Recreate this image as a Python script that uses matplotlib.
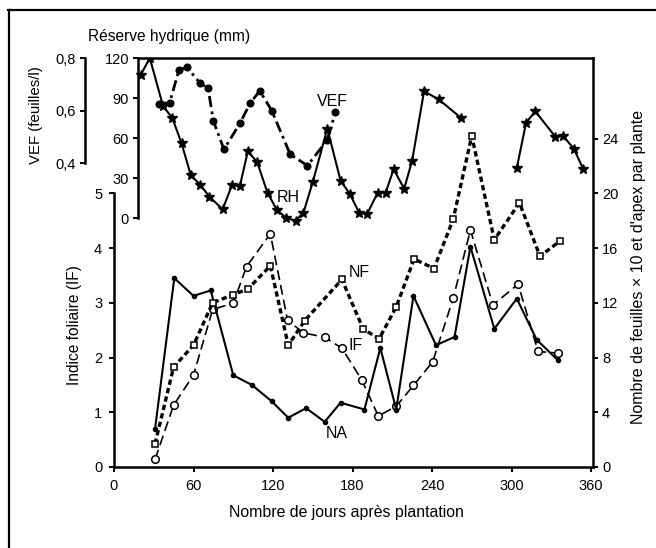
import numpy as np
import matplotlib
matplotlib.use("Agg")
import matplotlib.pyplot as plt
from matplotlib.lines import Line2D

plt.rcParams['font.family'] = ['Liberation Sans', 'DejaVu Sans']

# Réserve hydrique (mm) - stars, solid
rh_days = [20, 27, 37, 44, 51, 58, 65, 72, 82, 89, 95, 101, 108, 116, 123, 130, 137, 143, 150, 161,
           171, 178, 185, 191, 199, 205, 211, 219, 225, 234, 245, 262, 283, 304, 311, 318, 333, 339, 347, 354]
rh_mm = [107, 120, 84, 75, 56, 32, 25, 16, 6.5, 24.5, 24, 50, 42, 18.5, 6, 0, -2, 4, 27, 67,
         28, 18, 4, 3, 19, 19, 36.5, 22, 43, 95, 89, 75, np.nan, 37.5, 71.5, 80, 61, 61.5, 52, 37]

# VEF (feuilles/l) - filled dots, dash-dot
vef_days = [34, 42, 49, 55, 65, 71, 75, 83, 95, 103, 110, 119, 133, 146, 161, 167]
vef = [0.625, 0.63, 0.754, 0.765, 0.704, 0.685, 0.56, 0.452, 0.551, 0.63, 0.675, 0.60, 0.433, 0.39, 0.488, 0.593]

# Indice foliaire - open circles, dashed
if_days = [31, 45, 60, 74.5, 90, 100, 118, 131, 143, 159, 172, 187, 199.5, 213, 226, 240.5, 256, 269, 286, 305, 320, 335]
if_vals = [0.14, 1.13, 1.68, 2.88, 2.99, 3.66, 4.26, 2.68, 2.45, 2.37, 2.17, 1.59, 0.93, 1.11, 1.49, 1.92, 3.08, 4.33, 2.96, 3.34, 2.11, 2.08]

# Nombre de feuilles x 10 - open squares, dotted
nf_days = [31, 45, 60, 74.5, 90, 101, 118, 131.5, 144, 172, 188, 200, 213, 226.5, 241.5, 256, 270, 287, 306, 321.5, 336.5]
nf = [1.7, 7.3, 8.9, 12.0, 12.6, 13.0, 14.7, 8.9, 10.7, 13.7, 10.1, 9.35, 11.7, 15.2, 14.5, 18.1, 24.2, 16.6, 19.3, 15.4, 16.5]

# Nombre d'apex - small dots, solid
na_days = [31, 45.5, 60, 73, 90, 104, 119, 131.5, 145, 159, 171, 189, 201, 213, 226, 243, 257, 269, 287, 304, 319, 335]
na = [2.8, 13.8, 12.5, 12.9, 6.7, 6.0, 4.8, 3.6, 4.3, 3.3, 4.7, 4.2, 8.7, 4.2, 12.5, 8.9, 9.5, 16.1, 10.1, 12.3, 9.3, 7.8]

W, H = 656, 548
fig = plt.figure(figsize=(W / 100, H / 100), dpi=100)
L, R, B, T = 114, 593, 467, 58
ax = fig.add_axes([L / W, 1 - B / H, (R - L) / W, (B - T) / H])

lw_sp = 1.8
tick_kw = dict(direction='out', length=3.5, width=1.4, labelsize=10.5)

# main axis: indice foliaire
if_top = (B - T) / 54.75
ax.set_xlim(0, 361.5)
ax.set_ylim(0, if_top)
ax.plot(if_days, if_vals, color='black', lw=1.2, ls=(0, (6, 3)), marker='o', ms=5.5,
        mfc='white', mec='black', mew=1.1, zorder=4)
for s in ['left', 'bottom', 'top']:
    ax.spines[s].set_linewidth(lw_sp)
ax.spines['right'].set_visible(False)
ax.spines['left'].set_bounds(0, 5)
x_rh = (138 - L) / 1.325
ax.spines['top'].set_bounds(x_rh, 361.5)
ax.set_xticks([0, 60, 120, 180, 240, 300, 360])
ax.set_yticks([0, 1, 2, 3, 4, 5])
ax.tick_params(axis='both', **tick_kw)
ax.tick_params(axis='x', pad=5)
ax.tick_params(axis='y', pad=5)
ax.set_facecolor('none')

# right axis: feuilles x 10 and apex
ax_r = ax.twinx()
ax_r.set_ylim(0, 4 * if_top)
ax_r.plot(nf_days, nf, color='black', lw=2.4, ls=(0, (1.6, 1.0)), marker='s', ms=5,
          mfc='white', mec='black', mew=1.1, zorder=4)
ax_r.plot(na_days, na, color='black', lw=1.5, ls='-', marker='o', ms=3, mfc='black', mec='black', zorder=3)
for s in ['left', 'top', 'bottom']:
    ax_r.spines[s].set_visible(False)
ax_r.spines['right'].set_linewidth(lw_sp)
ax_r.set_yticks([0, 4, 8, 12, 16, 20, 24])
ax_r.tick_params(axis='y', pad=3, **tick_kw)

# réserve hydrique axis
f0 = (B - 218) / (B - T)
ax_rh = ax.twinx()
ax_rh.set_ylim(-120 * f0 / (1 - f0), 120)
ax_rh.plot(rh_days, rh_mm, color='black', lw=1.5, ls='-', marker='*', ms=7.5, mfc='black', mec='black', zorder=3)
for s in ['right', 'top', 'bottom']:
    ax_rh.spines[s].set_visible(False)
ax_rh.spines['left'].set_visible(True)
ax_rh.spines['left'].set_position(('data', x_rh))
ax_rh.spines['left'].set_bounds(0, 120)
ax_rh.spines['left'].set_linewidth(lw_sp)
ax_rh.yaxis.set_ticks_position('left')
ax_rh.set_yticks([0, 30, 60, 90, 120])
ax_rh.tick_params(axis='y', pad=3, **tick_kw)

# VEF axis
f4 = (B - 163) / (B - T)
span = 0.4 / (1 - f4)
ax_vef = ax.twinx()
ax_vef.set_ylim(0.4 - f4 * span, 0.8001)
ax_vef.plot(vef_days, vef, color='black', lw=2.0, ls=(0, (4, 1.6, 1, 1.6)), marker='o', ms=4.8,
            mfc='black', mec='black', zorder=3)
for s in ['right', 'top', 'bottom']:
    ax_vef.spines[s].set_visible(False)
ax_vef.spines['left'].set_visible(True)
ax_vef.spines['left'].set_position(('axes', (85 - L) / (R - L)))
ax_vef.spines['left'].set_bounds(0.4, 0.8)
ax_vef.spines['left'].set_linewidth(lw_sp)
ax_vef.yaxis.set_ticks_position('left')
ax_vef.set_yticks([0.4, 0.6, 0.8])
ax_vef.set_yticklabels(['0,4', '0,6', '0,8'])
ax_vef.tick_params(axis='y', pad=3, **tick_kw)

# labels
def fx(px):
    return px / W

def fy(py):
    return 1 - py / H

fig.text(fx(88), fy(37), 'Réserve hydrique (mm)', fontsize=11.2, ha='left', va='center')
fig.text(fx(36), fy(115), 'VEF (feuilles/l)', fontsize=10.8, rotation=90, ha='center', va='center')
fig.text(fx(75), fy(325), 'Indice foliaire (IF)', fontsize=11.2, rotation=90, ha='center', va='center')
fig.text(fx(639), fy(267), "Nombre de feuilles × 10 et d'apex par plante", fontsize=11.5,
         rotation=90, ha='center', va='center')
fig.text(fx(346), fy(512), 'Nombre de jours après plantation', fontsize=11.4, ha='center', va='center')

for txt, px, py in [('VEF', 332, 102), ('RH', 288, 197), ('NF', 359, 272), ('IF', 356, 345), ('NA', 337, 433)]:
    fig.text(fx(px), fy(py), txt, fontsize=11.5, ha='center', va='center')

# outer frame of the scanned figure
fig.add_artist(Line2D([fx(8), 1], [fy(10), fy(10)], transform=fig.transFigure, color='black', lw=1.6))
fig.add_artist(Line2D([fx(9), fx(9)], [0, fy(10)], transform=fig.transFigure, color='black', lw=1.6))

fig.savefig('out.png', dpi=100, facecolor='white')
